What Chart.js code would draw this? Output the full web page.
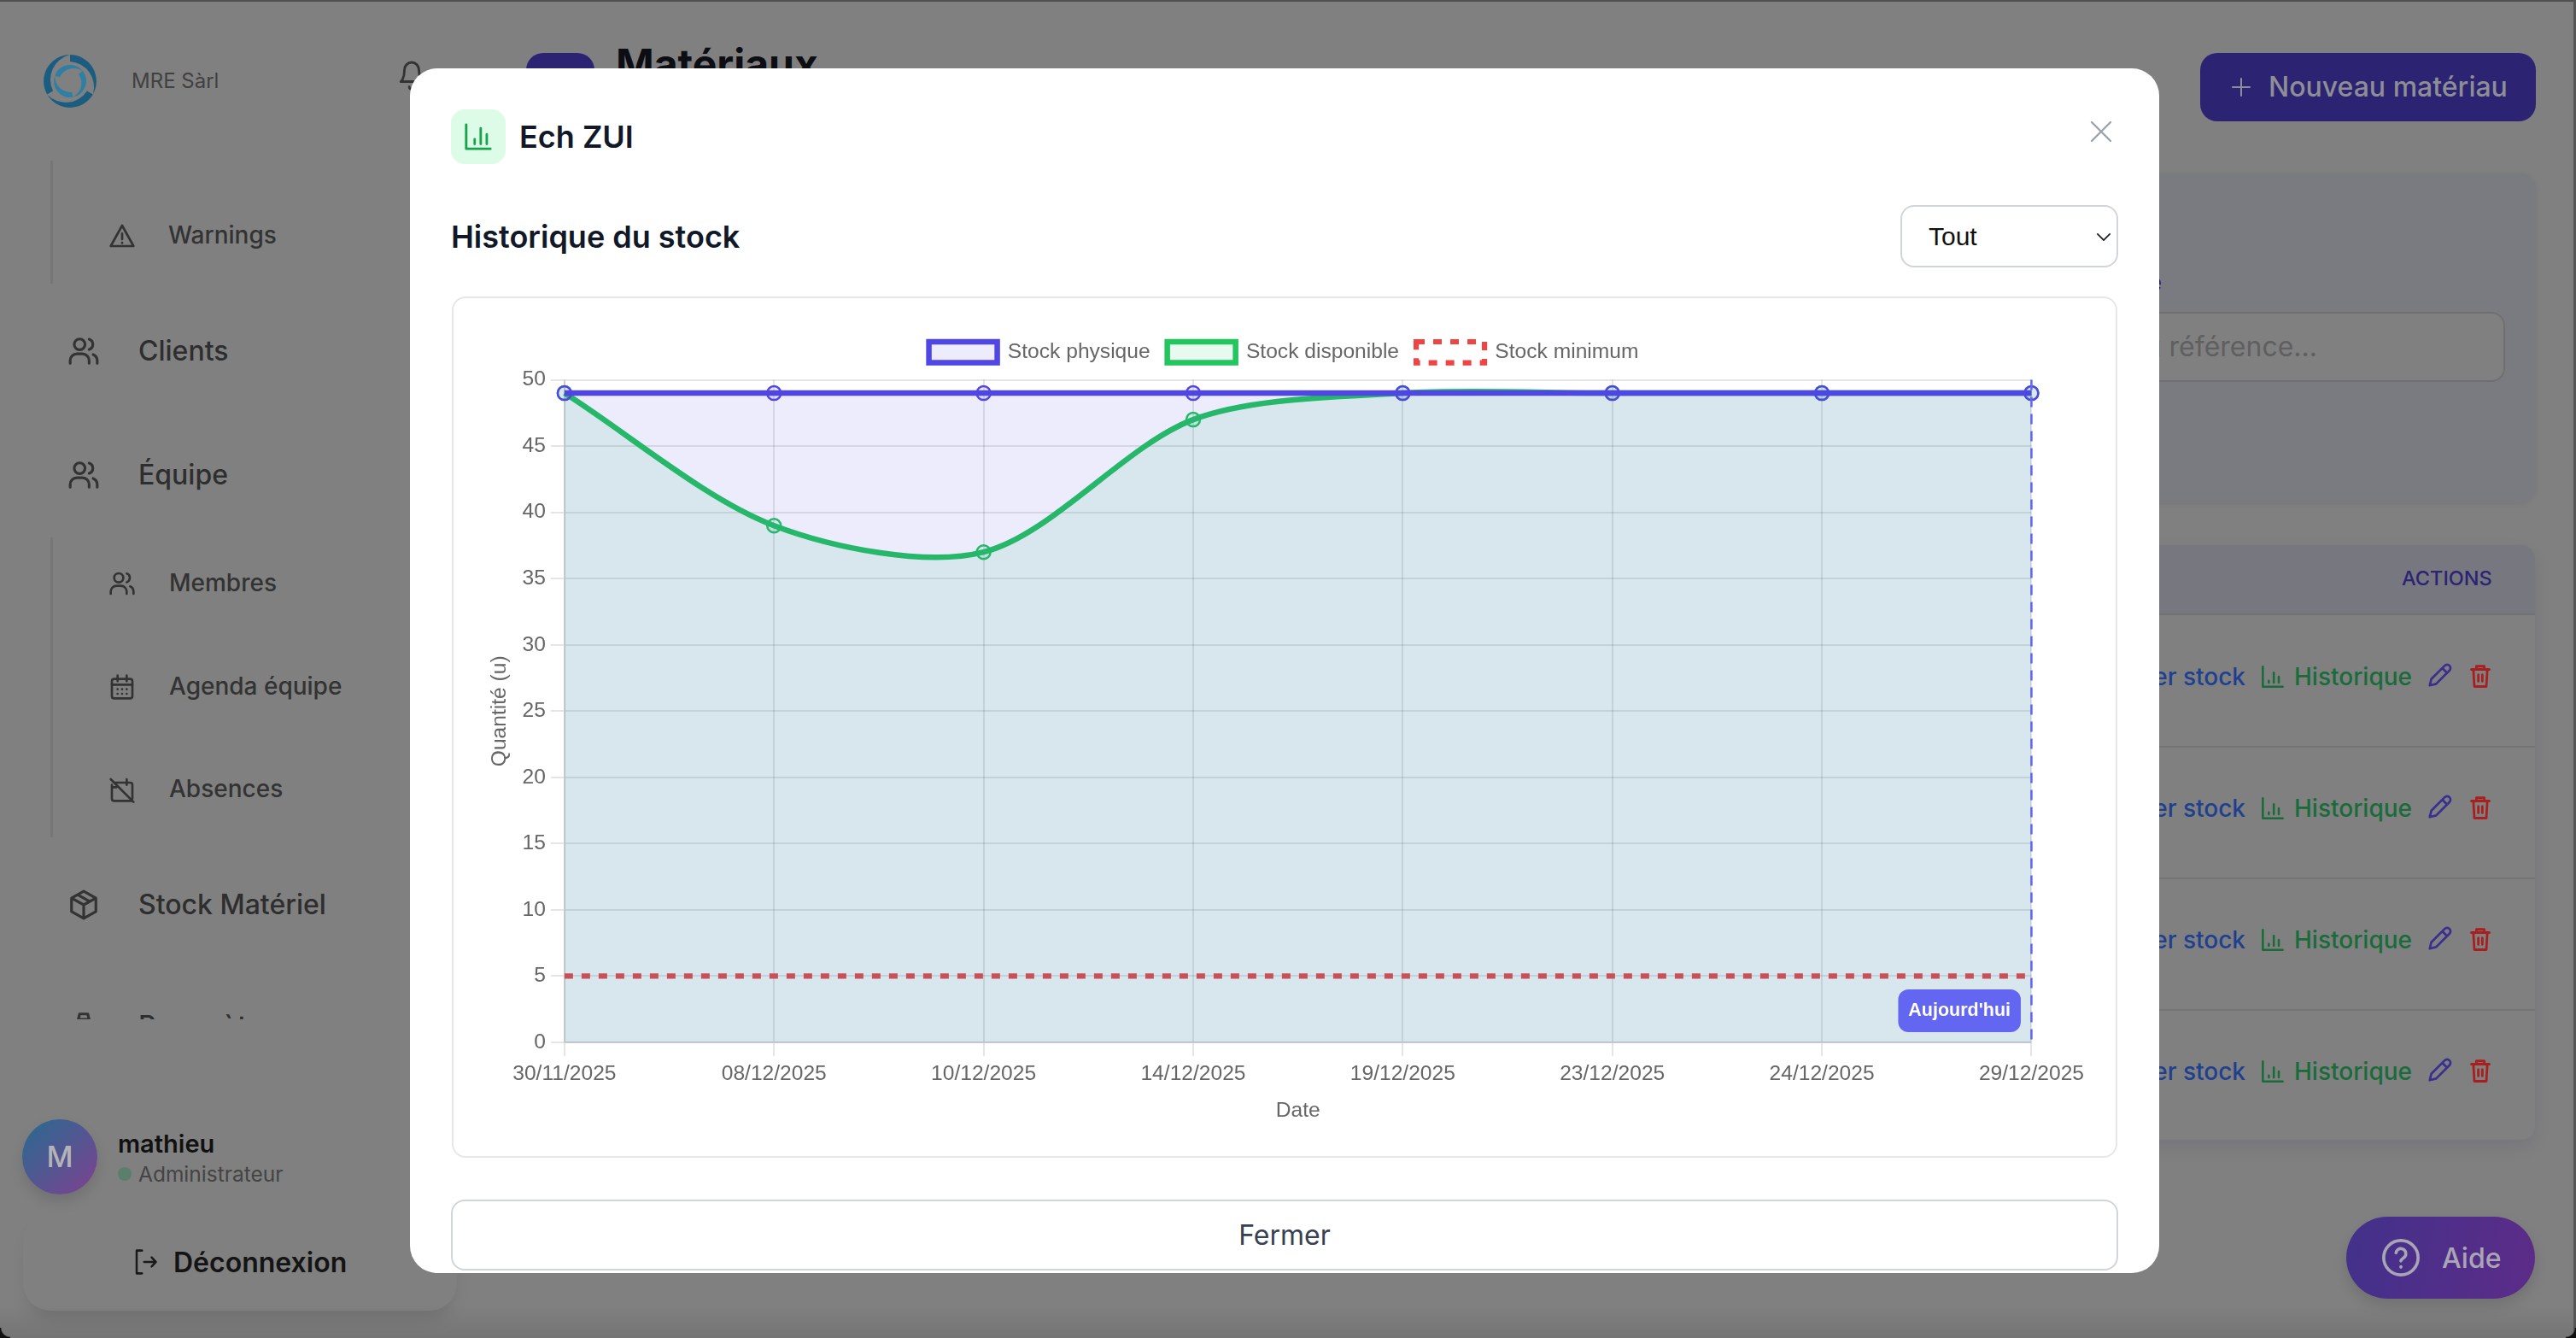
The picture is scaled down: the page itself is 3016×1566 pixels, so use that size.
<!DOCTYPE html>
<html lang="fr"><head><meta charset="utf-8"><title>Historique du stock</title>
<script src="https://cdn.jsdelivr.net/npm/chart.js@4"></script>
<style>
html,body{margin:0;padding:0;width:3016px;height:1566px;overflow:hidden;background:#808080;font-family:Inter,"Liberation Sans",sans-serif}
.t{position:absolute;white-space:nowrap;transform:translateY(-50%);line-height:1.2}
.b{position:absolute;box-sizing:border-box}
svg{position:absolute;overflow:visible;fill:none;stroke-linecap:round;stroke-linejoin:round}
#clip{position:absolute;left:0;top:0;width:479px;height:1193px;overflow:hidden}
#modal{position:absolute;left:480px;top:80px;width:2048px;height:1410px;background:#fff;border-radius:32px;overflow:hidden}
#chartBox{position:absolute;left:49px;top:267px;width:1950px;height:1008px;box-sizing:border-box;border:2px solid #e5e7eb;border-radius:16px}
canvas{position:absolute}
</style></head><body>
<div id="page"></div>
<div id="modal">
  <div class="b" style="left:48px;top:48px;width:64px;height:64px;border-radius:16px;background:#dcfce7"></div>
  <svg style="left:63px;top:63px" width="34" height="34" viewBox="0 0 24 24" stroke="#16a34a" stroke-width="2"><path d="M2 2v20h20M9 18v-4M14 18V5M19 18v-8"/></svg>
  <div class="t" style="left:128px;top:81px;font-size:36px;font-weight:600;color:#111827">Ech ZUI</div>
  <svg style="left:1968px;top:62px" width="24" height="24" viewBox="0 0 24 24" stroke="#9ca3af" stroke-width="2.4"><path d="M1 1l22 22M23 1L1 23"/></svg>
  <div class="t" style="left:48px;top:198px;font-size:36px;font-weight:600;color:#111827">Historique du stock</div>
  <div class="b" style="left:1745px;top:160px;width:255px;height:73px;border:2px solid #d1d5db;border-radius:16px"></div>
  <div class="t" style="left:1778px;top:197px;font-size:30px;font-family:'Liberation Sans';color:#111">Tout</div>
  <svg style="left:1975px;top:193px" width="16" height="9" viewBox="0 0 18 10" stroke="#222" stroke-width="2"><path d="M1 1l8 8 8-8"/></svg>
  <div id="chartBox"></div>
  <div class="b" style="left:48px;top:1324px;width:1952px;height:83px;border:2px solid #d1d5db;border-radius:16px"></div>
  <div class="t" style="left:1024px;top:1366px;transform:translate(-50%,-50%);font-size:32px;color:#374151">Fermer</div>
</div>
<canvas id="stockChart" width="1886" height="943" style="left:560px;top:380px;width:1886px;height:943px"></canvas>
<script>
/* ---------- chart data ---------- */
const dates = ['30/11/2025','08/12/2025','10/12/2025','14/12/2025','19/12/2025','23/12/2025','24/12/2025','29/12/2025'];
const stockPhysique = [49,49,49,49,49,49,49,49];
const stockDisponible = [49,39,37,47,49,49,49,49];
const stockMinimum = [5,5,5,5,5,5,5,5];
const yTicks = {min:0,max:50,step:5};
const todayLabel = '29/12/2025';
const todayText = "Aujourd'hui";

/* ---------- background page (dimmed) ---------- */
const page = document.getElementById('page');
const sideItems = [
 ['Warnings',198,275,28,'warn'],['Clients',163,410,32,'users'],['Équipe',163,555,32,'users2'],
 ['Membres',199,682,28,'users2s'],['Agenda équipe',199,803,28,'cal'],['Absences',199,923,28,'calx'],
 ['Stock Matériel',163,1058,32,'box'],['Paramètres',163,1200,32,'gear']];
const icons = {
 warn:'<path d="M12 3L2 21h20zM12 10v5M12 18v.3"/>',
 users:'<circle cx="9" cy="7" r="4"/><path d="M2 21v-2a5 5 0 0 1 5-5h4a5 5 0 0 1 5 5v2M16 3.2a4 4 0 0 1 0 7.6M22 21v-2a5 5 0 0 0-3-4.5"/>',
 cal:'<rect x="3" y="5" width="18" height="17" rx="2"/><path d="M3 10h18M8 2v5M16 2v5M8 14h.01M12 14h.01M16 14h.01M8 18h.01M12 18h.01M16 18h.01"/>',
 calx:'<path d="M5 6h14a2 2 0 0 1 2 2v12M3 8v12a2 2 0 0 0 2 2h16M16 3v5M2 3l20 20M3 10h4"/>',
 box:'<path d="M12 2l9 5v10l-9 5-9-5V7zM3 7l9 5 9-5M12 12v10M7.5 4.5l9 5"/>',
 gear:'<path d="M9 3h6l1 4h-8zM3 9h18"/>',
 chart:'<path d="M2 2v20h20M8 18v-2M13 18V8M18 18v-6"/>',
 pencil:'<path d="M3 21l1.5-6L17 2.5a2.2 2.2 0 0 1 4.5 4.5L9 19.5zM15 5l4 4"/>',
 trash:'<path d="M3 6h18M8 6V3h8v3M5 6l1 16h12l1-16M10 11v6M14 11v6"/>',
 bell:'<path d="M6 8a6 6 0 0 1 12 0c0 7 3 9 3 9H3s3-2 3-9M10 21a2 2 0 0 0 4 0"/>',
 logout:'<path d="M9 2H4v20h5M11 12h11M18 8l4 4-4 4"/>',
 help:'<circle cx="12" cy="12" r="10.5"/><path d="M9 9a3 3 0 0 1 6 1c0 2-3 2.500-3 4M12 17.500v.3"/>',
 plus:'<path d="M12 2v20M2 12h20"/>'
};
icons.users2 = icons.users; icons.users2s = icons.users;
function txt(parent,s,x,y,size,color,weight,extra){
  const d=document.createElement('div');d.className='t';d.textContent=s;
  d.style.cssText=`left:${x-1}px;top:${y+1}px;font-size:${size}px;color:${color};font-weight:${weight||400};${extra||''}`;
  parent.appendChild(d);return d;
}
function box(parent,css){const d=document.createElement('div');d.className='b';d.style.cssText=css;parent.appendChild(d);return d;}
function icon(parent,name,x,y,w,h,color,sw){
  parent.insertAdjacentHTML('beforeend',`<svg style="left:${x}px;top:${y}px" width="${w}" height="${h}" viewBox="0 0 24 24" preserveAspectRatio="none" stroke="${color}" stroke-width="${sw||2}">${icons[name]}</svg>`);
}
/* logo */
const crescent='M32 1 A31 31 0 0 1 59 47 A30 30 0 0 0 32 9 Z';
const crescentIn='M32 13 A19 19 0 0 1 48 42 A18 18 0 0 0 32 19 Z';
page.insertAdjacentHTML('beforeend',`<svg style="left:50px;top:63px;stroke:none" width="64" height="64" viewBox="0 0 64 64">
 ${[0,120,240].map(k=>`<path d="${crescent}" fill="#1b5d80" transform="rotate(${k} 32 32)"/><path d="${crescentIn}" fill="#2f7ea3" transform="rotate(${k+50} 32 32)"/>`).join('')}</svg>`);
txt(page,'MRE Sàrl',155,94,24,'#404040');
icon(page,'bell',465,70,34,36,'#333',2);
box(page,'left:616px;top:62px;width:80px;height:60px;border-radius:20px;background:#2c2373');
txt(page,'Matériaux',722,74,48,'#0d0d14',700);
/* side menu */
box(page,'left:59px;top:188px;width:3px;height:144px;background:#767676');
box(page,'left:59px;top:629px;width:3px;height:351px;background:#767676');
const clip=document.createElement('div');clip.id='clip';page.appendChild(clip);
sideItems.forEach(([s,x,y,f,ic])=>{
  const big=f===32;
  txt(clip,s,x,y,f,big?'#2e2e2e':'#333',500);
  icon(clip,ic,big?79:127,y-(big?18:15),big?38:32,big?38:32,'#333',2);
});
/* user block */
box(page,'left:27px;top:1420px;width:508px;height:114px;border-radius:32px;background:#808080;box-shadow:0 14px 22px -8px rgba(0,0,0,.14)');
box(page,'left:26px;top:1310px;width:88px;height:88px;border-radius:50%;background:linear-gradient(135deg,#276b91,#7f4190);box-shadow:0 8px 16px rgba(0,0,0,.12)');
txt(page,'M',71,1353,34,'#b4b4b8',500,'transform:translate(-50%,-50%);');
txt(page,'mathieu',139,1338,29,'#111',600);
box(page,'left:138px;top:1366px;width:16px;height:16px;border-radius:50%;background:#5a7f6e');
txt(page,'Administrateur',163,1374,24.500,'#444');
icon(page,'logout',155,1461,30,32,'#1a1a1a',2);
txt(page,'Déconnexion',204,1477,32,'#141414',600);
/* top right */
box(page,'left:2576px;top:62px;width:393px;height:80px;border-radius:20px;background:#2c2373');
icon(page,'plus',2612,90,24,24,'#8e8e96',2);
txt(page,'Nouveau matériau',2657,101,32,'#8e8e96',500);
box(page,'left:2400px;top:203px;width:569px;height:386px;border-radius:20px;background:#7a7b80;box-shadow:0 1px 6px rgba(0,0,0,.08)');
txt(page,'Recherche',2532,330,26,'#2c2373',500,'transform:translate(-100%,-50%);');
box(page,'left:2400px;top:365px;width:533px;height:82px;border-radius:16px;background:#808080;border:2px solid #6f6f73');
txt(page,'Rechercher par nom ou référence...',2714,405,32,'#5f5f60',400,'transform:translate(-100%,-50%);');
/* table */
box(page,'left:2400px;top:638px;width:568px;height:696px;border-radius:16px;background:#808080;box-shadow:0 8px 18px rgba(40,40,90,.10)');
box(page,'left:2400px;top:638px;width:568px;height:82px;border-radius:16px 16px 0 0;background:#77787f;border-bottom:2px solid #727276');
txt(page,'ACTIONS',2813,676,23.5,'#2c2373',500);
[792,946,1100,1254].forEach((y,i)=>{
  if(i>0) box(page,`left:2400px;top:${y-73}px;width:568px;height:2px;background:#747474`);
  txt(page,'Ajuster stock',2630,y,28,'#1f3f8f',500,'transform:translate(-100%,-50%);');
  icon(page,'chart',2647,y-14,28,28,'#1a6b3a',2.2);
  txt(page,'Historique',2687,y,28,'#1a6b3a',500);
  icon(page,'pencil',2841,y-16,30,30,'#3a2f8f',2.2);
  icon(page,'trash',2890,y-16,28,30,'#a81f1f',2.4);
});
/* help button */
box(page,'left:2747px;top:1424px;width:221px;height:96px;border-radius:48px;background:linear-gradient(100deg,#42318a,#5c2c88);box-shadow:0 8px 16px rgba(0,0,0,.12)');
icon(page,'help',2788,1449,46,46,'#a9a5b5',1.9);
txt(page,'Aide',2860,1472,32,'#a9a5b5',500);
/* screenshot edges */
box(page,'left:0;top:1526px;width:3016px;height:40px;background:linear-gradient(rgba(0,0,0,0),rgba(0,0,0,.09))');
box(page,'left:0;top:0;width:3016px;height:2px;background:#505050');
box(page,'left:3013px;top:0;width:3px;height:1566px;background:#565656');
box(page,'left:3004px;top:1554px;width:12px;height:12px;background:radial-gradient(circle at 0 0,transparent 10px,#111 11.500px)');
box(page,'left:0;top:1554px;width:12px;height:12px;background:radial-gradient(circle at 100% 0,transparent 10px,#111 11.500px)');

/* ---------- chart ---------- */
const todayPlugin = {
  id:'todayMarker',
  afterDatasetsDraw(chart){
    const {ctx,chartArea:a,scales:{x}} = chart;
    const px = x.getPixelForValue(dates.indexOf(todayLabel));
    ctx.save();
    ctx.strokeStyle='#6366f1';ctx.lineWidth=2.5;ctx.setLineDash([12,8]);
    ctx.beginPath();ctx.moveTo(px,a.top);ctx.lineTo(px,a.bottom);ctx.stroke();
    ctx.setLineDash([]);
    ctx.font='bold 21.5px "Liberation Sans"';
    const w=143.5,h=50,r=12,bx=px-12.500-w,by=a.bottom-12-h;
    ctx.fillStyle='#6366f1';ctx.beginPath();ctx.roundRect(bx,by,w,h,r);ctx.fill();
    ctx.fillStyle='#fff';ctx.textAlign='center';ctx.textBaseline='middle';
    ctx.fillText(todayText,bx+w/2,by+h/2);
    ctx.restore();
  }
};
/* leaves the extra gap the reference keeps under its legend */
const legendGap = {
  id:'legendGap',
  beforeInit(chart){
    const fit = chart.legend.fit;
    chart.legend.fit = function(){ fit.call(this); this.height += 10; };
  }
};
const F = {family:'"Liberation Sans"',size:24.6};
new Chart(document.getElementById('stockChart'),{
  type:'line',
  plugins:[legendGap,todayPlugin],
  data:{labels:dates,datasets:[
    {label:'Stock physique',data:stockPhysique,borderColor:'#4f46e5',backgroundColor:'rgba(79,70,229,0.1)',borderWidth:6.5,fill:true,tension:0.3,pointRadius:8,pointBorderWidth:2.5},
    {label:'Stock disponible',data:stockDisponible,borderColor:'#22c55e',backgroundColor:'rgba(34,197,94,0.1)',borderWidth:6.5,fill:true,tension:0.3,pointRadius:8,pointBorderWidth:2.5},
    {label:'Stock minimum',data:stockMinimum,borderColor:'#ef4444',backgroundColor:'rgba(239,68,68,0)',borderWidth:6.15,borderDash:[10,10],fill:false,pointRadius:0}
  ]},
  options:{
    responsive:false,animation:false,devicePixelRatio:1,
    layout:{padding:0},
    plugins:{
      legend:{position:'top',labels:{font:F,color:'#666',boxWidth:80,padding:20}},
      tooltip:{enabled:false},title:{display:false}
    },
    scales:{
      x:{title:{display:true,text:'Date',font:F,color:'#666',padding:{top:8,bottom:8}},
         ticks:{font:F,color:'#666',maxRotation:0,autoSkip:false,padding:6},
         grid:{lineWidth:2,tickLength:16},border:{width:2}},
      y:{min:yTicks.min,max:yTicks.max,
         title:{display:true,text:'Quantité (u)',font:F,color:'#666',padding:{top:10,bottom:6}},
         ticks:{stepSize:yTicks.step,font:F,color:'#666',padding:6},
         grid:{lineWidth:2,tickLength:16},border:{width:2}}
    }
  }
});
</script>
</body></html>
